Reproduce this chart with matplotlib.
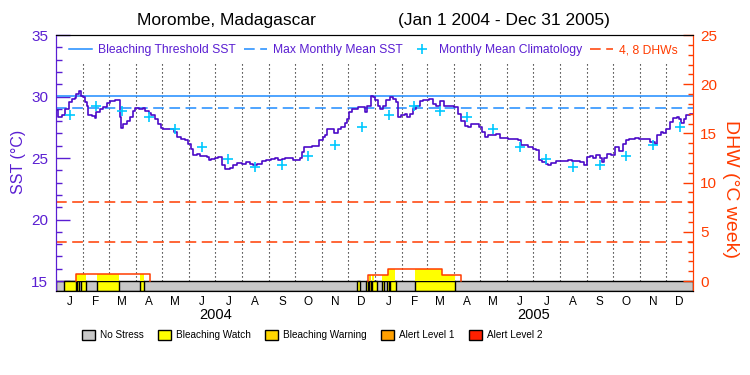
import numpy as np
import matplotlib
matplotlib.use("Agg")
from matplotlib import pyplot as plt
from matplotlib.lines import Line2D
from matplotlib.patches import Patch

plt.rcParams["font.family"] = ["Liberation Sans", "DejaVu Sans"]

# days since Jan 1 2004 and SST (degC)
sst_days = [0, 2, 6, 10, 14, 18, 21, 23, 26, 28, 31, 33, 35, 36, 41, 44, 46, 50, 54, 58,
            62, 67, 73, 74, 77, 81, 85, 88, 90, 95, 99, 102, 106, 109, 113, 117, 120, 123,
            135, 138, 143, 148, 151, 155, 157, 161, 165, 169, 173, 175, 178, 182, 186, 190,
            194, 199, 203, 207, 213, 218, 222, 226, 230, 236, 241, 247, 251, 255, 259, 262,
            272, 280, 282, 284, 293, 299, 302, 306, 309, 311, 319, 323, 327, 331, 334, 336,
            339, 343, 346, 354, 357, 361, 363, 366, 369, 372, 375, 379, 383, 387, 390, 392,
            396, 400, 403, 406, 409, 413, 417, 421, 425, 428, 432, 436, 440, 445, 457, 461,
            465, 469, 473, 476, 485, 489, 492, 495, 505, 509, 518, 524, 530, 534, 542, 547,
            551, 554, 558, 562, 565, 568, 574, 587, 592, 601, 606, 609, 613, 616, 620, 624,
            626, 629, 632, 637, 641, 646, 650, 654, 658, 664, 669, 675, 679, 682, 687, 690,
            694, 697, 700, 704, 708, 712, 715, 717, 721, 723, 727, 731]
sst_vals = [28.92, 28.32, 28.5, 29.0, 29.54, 29.76, 29.86, 30.2, 30.49, 30.08, 30.0, 29.54,
            29.27, 28.46, 28.4, 28.27, 28.73, 29.0, 29.13, 29.49, 29.62, 29.68, 28.32, 27.43,
            27.79, 27.97, 28.32, 28.86, 29.05, 29.0, 29.05, 28.86, 28.68, 28.46, 28.19, 27.79,
            27.43, 27.32, 27.1, 26.7, 26.57, 26.43, 26.16, 25.76, 25.27, 25.35, 25.2, 25.16,
            25.08, 24.81, 24.95, 25.0, 25.08, 24.46, 24.08, 24.19, 24.4, 24.6, 24.54, 24.67,
            24.54, 24.4, 24.54, 24.73, 24.81, 24.89, 25.0, 24.81, 24.89, 25.0, 24.81, 25.0,
            25.48, 25.89, 25.97, 25.95, 26.43, 26.7, 26.89, 27.38, 27.0, 27.38, 27.51, 27.87,
            28.19, 28.78, 28.95, 29.0, 29.13, 28.73, 29.21, 30.08, 29.95, 29.68, 29.27, 28.95,
            29.27, 29.68, 29.95, 29.76, 29.54, 28.32, 28.51, 28.6, 28.32, 28.6, 29.0, 29.27,
            29.6, 29.73, 29.68, 29.76, 29.41, 29.27, 29.6, 29.21, 29.13, 28.6, 28.05, 27.59,
            27.51, 27.79, 27.51, 27.1, 26.7, 26.89, 26.97, 26.62, 26.57, 26.51, 26.43, 26.03,
            25.89, 25.7, 25.62, 24.81, 24.67, 24.54, 24.4, 24.62, 24.73, 24.81, 24.73, 24.67,
            24.4, 25.08, 25.16, 25.0, 25.27, 25.0, 24.67, 25.0, 25.35, 25.27, 25.89, 25.54,
            26.16, 26.43, 26.57, 26.62, 26.51, 26.57, 26.51, 26.3, 26.16, 26.84, 27.1, 27.0,
            27.38, 27.92, 28.24, 28.32, 28.19, 27.87, 28.19, 28.51, 28.6, 28.6]

# monthly mean climatology, Jan..Dec
climatology = [28.5, 29.2, 28.8, 28.3, 27.35, 25.9, 24.9, 24.3, 24.4, 25.2, 26.1, 27.5]
mmm = 29.05
threshold = mmm + 1.0
dhw_levels = [4, 8]

# bleaching watch periods in the stress band (start day, end day)
watch_start = [9, 23.7, 27.8, 47, 96, 345.2, 356, 362.8, 373.5, 379.6, 383.5, 411.7]
watch_end = [22.6, 26.4, 33.5, 72, 100.6, 348.3, 358.3, 368.1, 376.6, 381.9, 389.6, 457.6]
warning_start = [359]
warning_end = [361.2]

# DHW outline above the band (steps) and filled watch parts
dhw_step_days = [[23, 23, 108], [358, 358, 381, 443, 465]]
dhw_step_vals = [[0, 0.75, 0], [0, 0.65, 1.25, 0.65, 0]]
fill_start = [23, 47, 96, 362.8, 373.5, 381, 412, 443]
fill_end = [34, 72, 101, 364.5, 381, 389, 443, 458]
fill_level = [0.75, 0.75, 0.75, 0.65, 0.65, 1.25, 1.25, 0.65]
fill_warn_start = [359]
fill_warn_end = [361.2]
fill_warn_level = [0.65]

month_letters = list("JFMAMJJASOND") * 2
years = ["2004", "2005"]

PURPLE = "#5a1ed2"
LINE = "#4b0ac8"
BLUE = "#1e8cff"
CYAN = "#00c8ff"
RED = "#ff3c00"
GRAY = "#c8c8c8"
YELLOW = "#ffff00"
GOLD = "#ffd700"

months = np.arange("2004-01", "2006-02", dtype="datetime64[M]").astype("datetime64[D]")
month_start = (months - np.datetime64("2004-01-01")).astype(int)
month_mid = (month_start[:-1] + month_start[1:]) / 2.0
year_mid = [(month_start[0] + month_start[12]) / 2.0, (month_start[12] + month_start[24]) / 2.0]
n_days = month_start[-1]

y_low = 14.23
fig = plt.figure(figsize=(7.5, 3.75), dpi=100)
ax = fig.add_axes([0.0751, 0.2253, 0.849, 0.6813])
ax.set_xlim(0, n_days)
ax.set_ylim(y_low, 35)

# stress band
ax.axhspan(y_low, 15, facecolor=GRAY, edgecolor="black", lw=1, zorder=1)
ax.bar(watch_start, 15 - y_low, width=np.subtract(watch_end, watch_start), bottom=y_low,
       align="edge", color=YELLOW, edgecolor="black", lw=1, zorder=2)
ax.bar(warning_start, 15 - y_low, width=np.subtract(warning_end, warning_start), bottom=y_low,
       align="edge", color=GOLD, edgecolor="black", lw=1, zorder=2)

ax.vlines(month_start[1:-1], 15, 32.7, colors="black", linestyles=(0, (1, 2.6)), lw=0.8, zorder=1)
ax.axhline(threshold, color=BLUE, lw=1.1, zorder=2)
ax.axhline(mmm, color=BLUE, lw=1.1, ls=(0, (7, 3.6)), zorder=2)
ax.plot(sst_days, sst_vals, drawstyle="steps-post", color=LINE, lw=1.2, zorder=4)
ax.plot(month_mid, climatology * 2, ls="none", marker="+", ms=7, mew=1.2, color=CYAN, zorder=5)

ax.set_xticks(month_mid)
ax.set_xticklabels(month_letters)
ax.tick_params(axis="x", length=0, pad=4, labelsize=8.5)
for x, yr in zip(year_mid, years):
    ax.text(x, -0.096, yr, transform=ax.get_xaxis_transform(), ha="center", va="center",
            fontsize=10.5)

ax.set_yticks(np.arange(15, 36, 5))
ax.set_yticks(np.arange(15, 36, 1), minor=True)
ax.tick_params(axis="y", which="major", direction="in", length=10, width=1, colors=PURPLE,
               labelsize=11, pad=6)
ax.tick_params(axis="y", which="minor", direction="in", length=4.5, width=1, colors=PURPLE)

# DHW axis
ax2 = ax.twinx()
ax2.set_ylim((y_low - 15) * 1.25, 25)
for lvl in dhw_levels:
    ax2.axhline(lvl, color=RED, lw=1.1, ls=(0, (7, 3.6)))
ax2.bar(fill_start, fill_level, width=np.subtract(fill_end, fill_start), align="edge",
        color=YELLOW, lw=0, zorder=2)
ax2.bar(fill_warn_start, fill_warn_level, width=np.subtract(fill_warn_end, fill_warn_start),
        align="edge", color=GOLD, lw=0, zorder=2)
for d, v in zip(dhw_step_days, dhw_step_vals):
    ax2.plot(d, v, drawstyle="steps-post", color=RED, lw=1.1, zorder=3)
ax2.set_yticks(np.arange(0, 26, 5))
ax2.set_yticks(np.arange(0, 26, 1), minor=True)
ax2.tick_params(axis="y", which="major", direction="in", length=7, width=1, colors=RED,
                labelsize=11, pad=5)
ax2.tick_params(axis="y", which="minor", direction="in", length=3.5, width=1, colors=RED)

for a in (ax, ax2):
    a.spines["left"].set_color(PURPLE)
    a.spines["right"].set_color(RED)
    a.spines["top"].set_color("black")
    a.spines["bottom"].set_color("black")

fig.text(18 / 750, 1 - 162 / 375, "SST (°C)", rotation=90, ha="center", va="center",
         color=PURPLE, fontsize=11.5)
fig.text(731 / 750, 1 - 189 / 375, "DHW (°C week)", rotation=270, ha="center", va="center",
         color=RED, fontsize=14)
fig.text(226.5 / 750, 1 - 20 / 375, "Morombe, Madagascar", ha="center", va="center", fontsize=12.5)
fig.text(503.5 / 750, 1 - 20 / 375, "(Jan 1 2004 - Dec 31 2005)", ha="center", va="center",
         fontsize=12.5)

top_handles = [
    Line2D([], [], color=BLUE, lw=1.1),
    Line2D([], [], color=BLUE, lw=1.1, ls=(0, (7, 3.6))),
    Line2D([], [], ls="none", marker="+", ms=7, mew=1.2, color=CYAN),
    Line2D([], [], color=RED, lw=1.1, ls=(0, (7, 3.6))),
]
top_labels = ["Bleaching Threshold SST", "Max Monthly Mean SST", "Monthly Mean Climatology",
              "4, 8 DHWs"]
leg = ax2.legend(top_handles, top_labels, loc="upper left", bbox_to_anchor=(0.02, 0.964),
                 ncol=4, frameon=False, fontsize=8.7, handlelength=1.9, handletextpad=0.5,
                 columnspacing=0.65, borderpad=0, borderaxespad=0)
for t, c in zip(leg.get_texts(), [PURPLE, PURPLE, PURPLE, RED]):
    t.set_color(c)

stress_labels = ["No Stress", "Bleaching Watch", "Bleaching Warning", "Alert Level 1", "Alert Level 2"]
stress_colors = [GRAY, YELLOW, GOLD, "#ffa000", "#ff2000"]
patches = [Patch(facecolor=c, edgecolor="black", lw=1) for c in stress_colors]
fig.legend(patches, stress_labels, loc="center left", bbox_to_anchor=(81.7 / 750, 1 - 335 / 375),
           ncol=5, frameon=False, fontsize=7.2, handlelength=1.33, handleheight=1.15,
           handletextpad=0.5, columnspacing=1.4, borderpad=0, borderaxespad=0)

fig.savefig("out.png", dpi=100)
